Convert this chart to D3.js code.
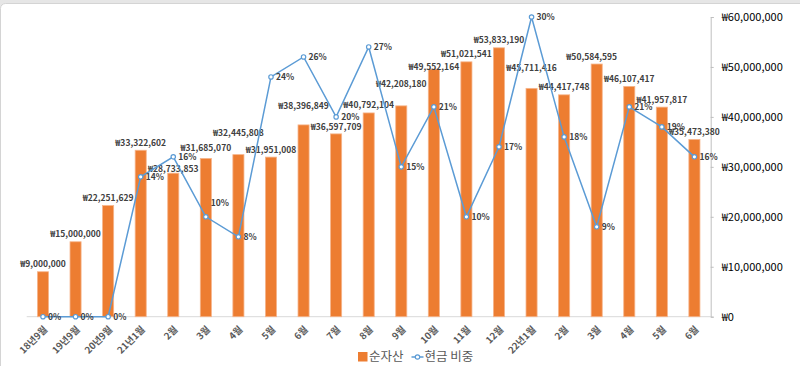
<!DOCTYPE html>
<html><head><meta charset="utf-8">
<script src="https://cdn.jsdelivr.net/npm/d3@7"></script>
<style>
html,body{margin:0;padding:0;background:#fff;}
svg{display:block;font-family:"Noto Sans CJK KR","Noto Sans",sans-serif;}
</style></head>
<body>
<svg id="chart" width="800" height="366"></svg>
<script>
const categories = ["18년9월","19년9월","20년9월","21년1월","2월","3월","4월","5월","6월","7월","8월","9월","10월","11월","12월","22년1월","2월","3월","4월","5월","6월"];
const netAssets = [9000000,15000000,22251629,33322602,28733853,31685070,32445808,31951008,38396849,36597709,40792104,42208180,49552164,51021541,53833190,45711416,44417748,50584595,46107417,41957817,35473380];
const cashRatio = [0,0,0,0.14,0.16,0.10,0.08,0.24,0.26,0.20,0.27,0.15,0.21,0.10,0.17,0.30,0.18,0.09,0.21,0.19,0.16];
const yTicks = [0,10000000,20000000,30000000,40000000,50000000,60000000];
const seriesNames = ["순자산","현금 비중"];

// label nudges (layout only)
const barLabelLift = [0,0,0,0,-3,3,14,0,11,-1,0,14,-5,0,0,13,0,0,0,0,0];
const barLabelDx   = [0,0,0,0,0,0,0,0,0,0,0,0,0,0,0,0,0,-5,0,0,0];
const pctLabelDy   = [0,0,0,0,0,-13.5,0,0,0,0,0,0,0,0,0,0,0,0,0,0,0];

const svg = d3.select("#chart");
const W = 800, H = 366;
const plotLeft = 26.7, plotRight = 710.7, plotTop = 17, plotBottom = 316.7;

// frame
svg.append("rect").attr("x",0).attr("y",0).attr("width",W).attr("height",H).attr("fill","#e6e6e6");
svg.append("rect").attr("x",0.5).attr("y",3.5).attr("width",W+20).attr("height",H+20).attr("rx",5)
  .attr("fill","#fff").attr("stroke","#d4d4d4");

const idx = categories.map((d,i)=>i);
const x = d3.scaleBand().domain(idx).range([plotLeft, plotRight]).paddingInner(0.66).paddingOuter(0.33);
const y = d3.scaleLinear().domain([0,60000000]).range([plotBottom, plotTop]);
const yp = d3.scaleLinear().domain([0,0.30]).range([plotBottom, plotTop]);
const cx = i => x(i) + x.bandwidth()/2;

// baseline
svg.append("line").attr("x1",plotLeft).attr("x2",plotRight).attr("y1",plotBottom).attr("y2",plotBottom)
  .attr("stroke","#d9d9d9").attr("stroke-width",1);

// right axis
const ax = svg.append("g").attr("transform",`translate(${plotRight},0)`)
  .call(d3.axisRight(y).tickValues(yTicks).tickSize(3).tickPadding(8)
    .tickFormat(d=>"₩"+d3.format(",")(d)));
ax.select(".domain").attr("stroke","#bfbfbf");
ax.selectAll(".tick line").attr("stroke","#bfbfbf");
ax.selectAll(".tick text").attr("fill","#000").attr("font-size","11px")
  .attr("font-family","\"Noto Sans CJK KR\",sans-serif");

// bars
svg.append("g").selectAll("rect").data(netAssets).join("rect")
  .attr("x",(d,i)=>x(i)).attr("y",d=>y(d)).attr("width",x.bandwidth())
  .attr("height",d=>plotBottom-y(d)).attr("fill","#ED7D31").attr("stroke","#F6B48A").attr("stroke-width",0.8);

// x labels
svg.append("g").selectAll("text").data(categories).join("text")
  .attr("transform",(d,i)=>`translate(${cx(i)+2.5},${plotBottom+11}) rotate(-45)`)
  .attr("text-anchor","end").attr("dy","0.35em")
  .attr("font-size","9.5px").attr("font-weight","bold").attr("fill","#595959")
  .text(d=>d);

// bar labels
svg.append("g").selectAll("text").data(netAssets).join("text")
  .attr("x",(d,i)=>cx(i)+barLabelDx[i])
  .attr("y",(d,i)=>y(d)-7.5-barLabelLift[i])
  .attr("dy","0.35em").attr("text-anchor","middle")
  .attr("font-size","8.5px").attr("font-weight","bold").attr("fill","#404040")
  .text(d=>"₩"+d3.format(",")(d));

// line
const line = d3.line().x((d,i)=>cx(i)).y(d=>yp(d));
svg.append("path").datum(cashRatio).attr("d",line).attr("fill","none")
  .attr("stroke","#5B9BD5").attr("stroke-width",1.5);
svg.append("g").selectAll("circle").data(cashRatio).join("circle")
  .attr("cx",(d,i)=>cx(i)).attr("cy",d=>yp(d)).attr("r",2.2)
  .attr("fill","#fff").attr("stroke","#5B9BD5").attr("stroke-width",1.2);

// pct labels
svg.append("g").selectAll("text").data(cashRatio).join("text")
  .attr("x",(d,i)=>cx(i)+5).attr("y",(d,i)=>yp(d)+pctLabelDy[i])
  .attr("dy","0.35em").attr("text-anchor","start")
  .attr("font-size","8.5px").attr("font-weight","bold").attr("fill","#404040")
  .text(d=>d3.format(".0%")(d));

// legend
const lg = svg.append("g");
lg.append("rect").attr("x",358).attr("y",352).attr("width",9.5).attr("height",9.5).attr("fill","#ED7D31");
lg.append("text").attr("x",369).attr("y",357).attr("dy","0.35em").attr("font-size","12.5px")
  .attr("fill","#595959").text(seriesNames[0]);
lg.append("line").attr("x1",411.5).attr("x2",423.5).attr("y1",357).attr("y2",357)
  .attr("stroke","#5B9BD5").attr("stroke-width",1.5);
lg.append("circle").attr("cx",417.5).attr("cy",357).attr("r",2.2).attr("fill","#fff")
  .attr("stroke","#5B9BD5").attr("stroke-width",1.2);
lg.append("text").attr("x",424.5).attr("y",357).attr("dy","0.35em").attr("font-size","12.5px")
  .attr("fill","#595959").text(seriesNames[1]);
</script>
</body></html>
